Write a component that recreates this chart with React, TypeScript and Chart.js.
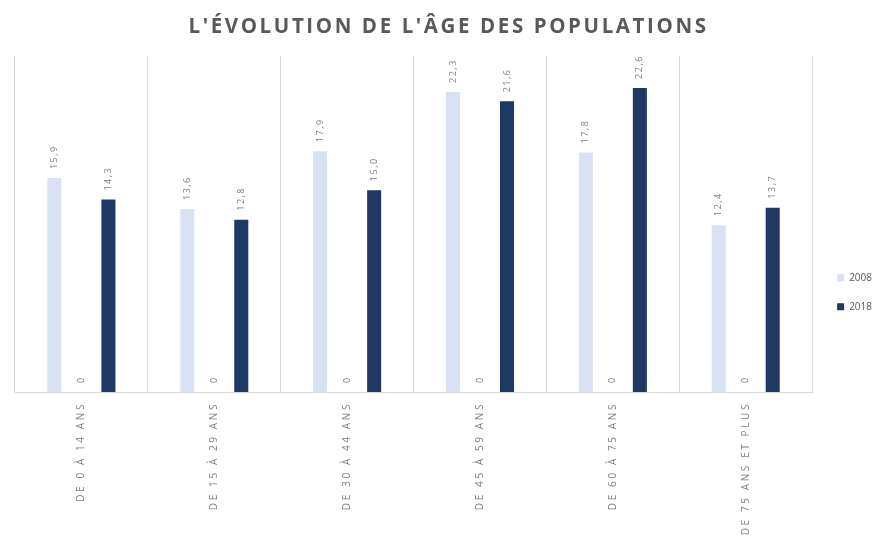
import React, { useEffect, useRef } from "react";
import { Chart, registerables } from "chart.js";

Chart.register(...registerables);

const TITLE = "L'ÉVOLUTION DE L'ÂGE DES POPULATIONS";
const categories = [
  "DE 0 À 14 ANS",
  "DE 15 À 29 ANS",
  "DE 30 À 44 ANS",
  "DE 45 À 59 ANS",
  "DE 60 À 75 ANS",
  "DE 75 ANS ET PLUS",
];
const values2008 = [15.9, 13.6, 17.9, 22.3, 17.8, 12.4];
const valuesMiddle = [0, 0, 0, 0, 0, 0];
const values2018 = [14.3, 12.8, 15.0, 21.6, 22.6, 13.7];
const seriesNames = ["2008", "", "2018"];

const fmt = (v: number) => (v === 0 ? "0" : v.toFixed(1).replace(".", ","));

const spacingPlugin = {
  id: "spacingPlugin",
  afterLayout(chart: any) {
    const ctx = chart.ctx;
    const x = chart.scales.x;
    if (x && !x.__patched) {
      x.__patched = true;
      const orig = x.drawLabels.bind(x);
      x.drawLabels = (ca: any) => {
        ctx.save();
        ctx.letterSpacing = "2.6px";
        orig(ca);
        ctx.restore();
      };
    }
    const t = chart.titleBlock;
    if (t && !t.__patched) {
      t.__patched = true;
      const origT = t.draw.bind(t);
      t.draw = (ca: any) => {
        ctx.save();
        ctx.letterSpacing = "2.6px";
        origT(ca);
        ctx.restore();
      };
    }
  },
};

const valueLabels = {
  id: "valueLabels",
  afterDatasetsDraw(chart: any) {
    const ctx = chart.ctx;
    ctx.save();
    ctx.letterSpacing = "1.5px";
    ctx.font = "9px 'Open Sans'";
    ctx.fillStyle = "#7f7f7f";
    ctx.textAlign = "left";
    ctx.textBaseline = "middle";
    chart.data.datasets.forEach((ds: any, di: number) => {
      const meta = chart.getDatasetMeta(di);
      meta.data.forEach((el: any, i: number) => {
        const v = ds.data[i];
        ctx.save();
        ctx.translate(el.x, el.y - 9);
        ctx.rotate(-Math.PI / 2);
        ctx.fillText(fmt(v), 0, 0);
        ctx.restore();
      });
    });
    ctx.restore();
  },
};

export default function App() {
  const ref = useRef<HTMLCanvasElement | null>(null);
  useEffect(() => {
    if (!ref.current) return;
    const chart = new Chart(ref.current, {
      type: "bar",
      data: {
        labels: categories,
        datasets: [
          { label: seriesNames[0], data: values2008, backgroundColor: "#d9e2f3" },
          { label: seriesNames[1], data: valuesMiddle, backgroundColor: "#8faadc" },
          { label: seriesNames[2], data: values2018, backgroundColor: "#1f3864" },
        ],
      },
      options: {
        animation: false,
        responsive: false,
        maintainAspectRatio: false,
        datasets: { bar: { categoryPercentage: 0.61, barPercentage: 0.52 } },
        layout: { padding: { left: 15, right: 4, top: 0, bottom: 0 } },
        plugins: {
          title: {
            display: true,
            text: TITLE,
            color: "#595959",
            font: { family: "'Open Sans'", size: 20.5, weight: "bold" },
            padding: { top: 15, bottom: 16 },
          },
          legend: {
            display: true,
            position: "right",
            align: "center",
            labels: {
              filter: (item: any) => item.text !== "",
              boxWidth: 7,
              boxHeight: 7,
              padding: 19,
              color: "#595959",
              font: { family: "'Open Sans'", size: 10 },
            },
            title: { display: true, text: "", padding: { top: 34, bottom: 0 } },
          },
          tooltip: { enabled: false },
        },
        scales: {
          x: {
            grid: { display: true, color: "#d9d9d9", drawTicks: false, offset: true },
            border: { display: true, color: "#d9d9d9" },
            ticks: {
              color: "#7f7f7f",
              font: { family: "'Open Sans'", size: 10 },
              maxRotation: 90,
              minRotation: 90,
              padding: 10,
              autoSkip: false,
            },
            afterFit: (s: any) => {
              s.height = 144;
            },
          },
          y: { display: false, min: 0, max: 25 },
          gap: {
            axis: "y",
            position: "right",
            display: true,
            grid: { display: false },
            border: { display: false },
            ticks: { display: false },
            afterFit: (s: any) => {
              s.width = 6;
            },
          },
        },
      },
      plugins: [spacingPlugin, valueLabels],
    });
    return () => chart.destroy();
  }, []);
  return (
    <div style={{ position: "fixed", left: 0, top: 0, width: 886, height: 536, background: "#fff" }}>
      <canvas ref={ref} width={886} height={536} style={{ width: 886, height: 536 }} />
    </div>
  );
}
